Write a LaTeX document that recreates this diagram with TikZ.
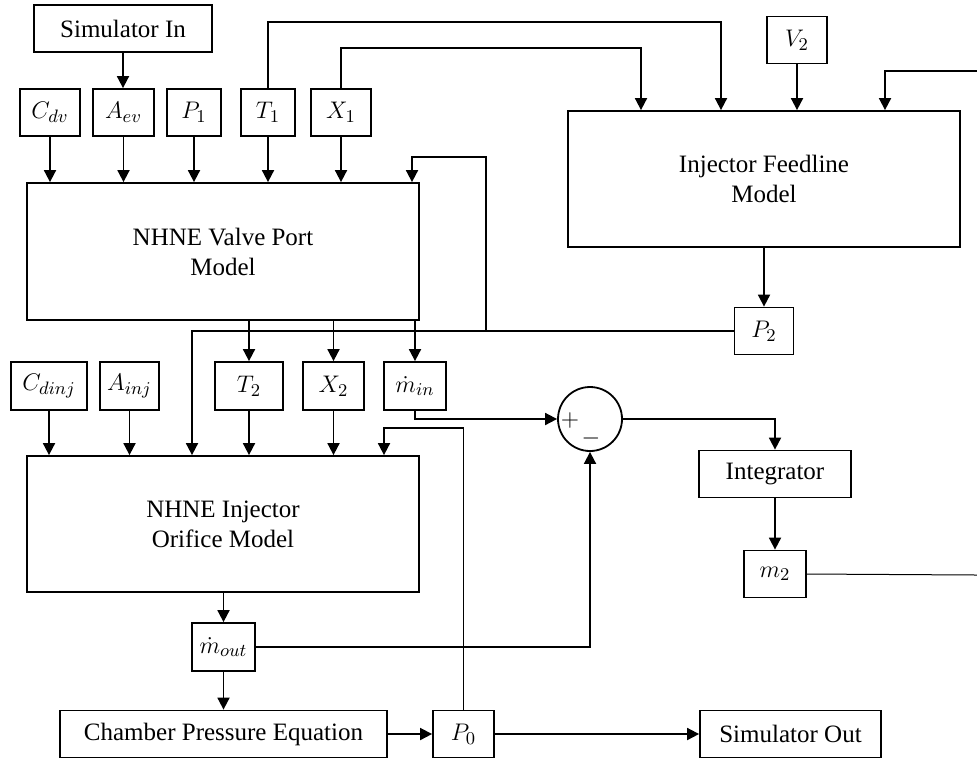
\documentclass[tikz,border=0pt]{standalone}
\usepackage{fontspec}
\setmainfont{Liberation Serif}
\usetikzlibrary{arrows.meta}

\begin{document}
\begin{tikzpicture}[x=0.5pt, y=-0.5pt, line width=0.9pt, font=\fontsize{12.5}{15}\selectfont,
  box/.style={draw, inner sep=0pt, align=center, minimum height=23.5pt}, % 四角形
  arr/.style={-{Triangle[width=6pt,length=6pt]}}, % 矢印
  thinline/.style={line width=0.5pt}]
  \useasboundingbox (0,0) rectangle (977,761); % 画像の大きさ

  % 上段の入力
  \node[box, minimum width=89pt] (simin) at (123,28.5) {Simulator In};
  \node[box, minimum width=30pt] (cdv) at (50,112.5) {$C_{dv}$};
  \node[box, minimum width=30.5pt] (aev) at (123.5,112.5) {$A_{ev}$};
  \node[box, minimum width=27pt] (pone) at (194,112.5) {$P_1$};
  \node[box, minimum width=27pt] (tone) at (268,112.5) {$T_1$};
  \node[box, minimum width=30pt] (xone) at (341,112.5) {$X_1$};
  \node[box, minimum width=196pt, minimum height=68.5pt] (valve) at (223,251.5) {NHNE Valve Port\\Model};
  \node[box, minimum width=30pt] (vtwo) at (797,40) {$V_2$};
  \node[box, minimum width=196pt, minimum height=68pt] (feed) at (764,179) {Injector Feedline\\Model};
  \node[box, minimum width=29.5pt] (ptwo) at (764,331) {$P_2$};

  % 中段
  \node[box, minimum width=38pt, minimum height=24pt] (cdinj) at (49,386) {$C_{dinj}$};
  \node[box, minimum width=29.5pt, minimum height=24pt] (ainj) at (129.5,386) {$A_{inj}$};
  \node[box, minimum width=34pt, minimum height=24pt] (ttwo) at (249,386) {$T_2$};
  \node[box, minimum width=30.5pt, minimum height=24pt] (xtwo) at (333.5,386) {$X_2$};
  \node[box, minimum width=31pt, minimum height=24pt] (mdotin) at (415,386) {$\dot{m}_{in}$};
  \node[box, minimum width=196pt, minimum height=68pt] (inj) at (223,524) {NHNE Injector\\Orifice Model};
  \node[draw, circle, minimum size=32pt, inner sep=0pt] (sum) at (590,419) {};
  \node (plus) at (570,420) {$+$};
  \node (minus) at (591,438) {$-$};
  \node[box, minimum width=76pt] (integ) at (775,474) {Integrator};
  \node[box, minimum width=31pt] (mtwo) at (775,574) {$m_2$};

  % 下段
  \node[box, minimum width=31.5pt, minimum height=24pt] (mdotout) at (223.5,647) {$\dot{m}_{out}$};
  \node[box, minimum width=163.5pt] (chamber) at (223.5,734) {Chamber Pressure Equation};
  \node[box, minimum width=30.5pt] (pzero) at (463.5,734) {$P_0$};
  \node[box, minimum width=90.5pt] (simout) at (790.5,734) {Simulator Out};

  % 矢印の行き先
  \coordinate (finx) at ([xshift=-61.5pt]feed.north);
  \coordinate (fint) at ([xshift=-21.5pt]feed.north);
  \coordinate (finr) at ([xshift=60.5pt]feed.north);
  \coordinate (vinp) at ([xshift=94.5pt]valve.north);
  \coordinate (injp) at ([xshift=-15.5pt]inj.north);
  \coordinate (injq) at ([xshift=80.5pt]inj.north);
  \coordinate (tap) at (486,331);
  \coordinate (rin) at (977,71);
  \coordinate (rout) at (977,575);

  \draw[arr] (simin.south) -- (simin.south |- aev.north);
  \foreach \n in {cdv,aev,pone,tone,xone}
    \draw[arr] (\n) -- (\n |- valve.north);
  \draw[arr] (tone.north) -- ++(0,-66) -| (fint);
  \draw[arr] (xone.north) -- ++(0,-40) -| (finx);
  \draw[arr] (vtwo) -- (vtwo |- feed.north);
  \draw[arr] (rin) -| (finr);
  \draw[arr] (feed) -- (ptwo);
  \draw[arr] (ptwo.west) -| (injp);
  \draw[arr] (tap) -- ++(0,-174) -| (vinp);
  \foreach \n in {ttwo,xtwo,mdotin}
    \draw[arr] (valve.south -| \n) -- (\n.north);
  \foreach \n in {cdinj,ainj,ttwo,xtwo}
    \draw[arr] (\n) -- (\n |- inj.north);
  \draw[arr] (mdotin.south) |- (sum.west);
  \draw[arr] (sum.east) -| (integ.north);
  \draw[arr] (integ) -- (mtwo);
  \draw[thinline] (mtwo.east) -- (rout);
  \draw[arr] (inj.south -| mdotout) -- (mdotout.north);
  \draw[arr] (mdotout.east) -| (sum.south);
  \draw[arr] (mdotout) -- (chamber);
  \draw[arr] (chamber) -- (pzero);
  \draw[arr] (pzero) -- (simout);
  \draw[thinline] (pzero.north) -- ++(0,-282) coordinate (pk); % 細線
  \draw[arr] (pk) -| (injq);
\end{tikzpicture}
\end{document}
